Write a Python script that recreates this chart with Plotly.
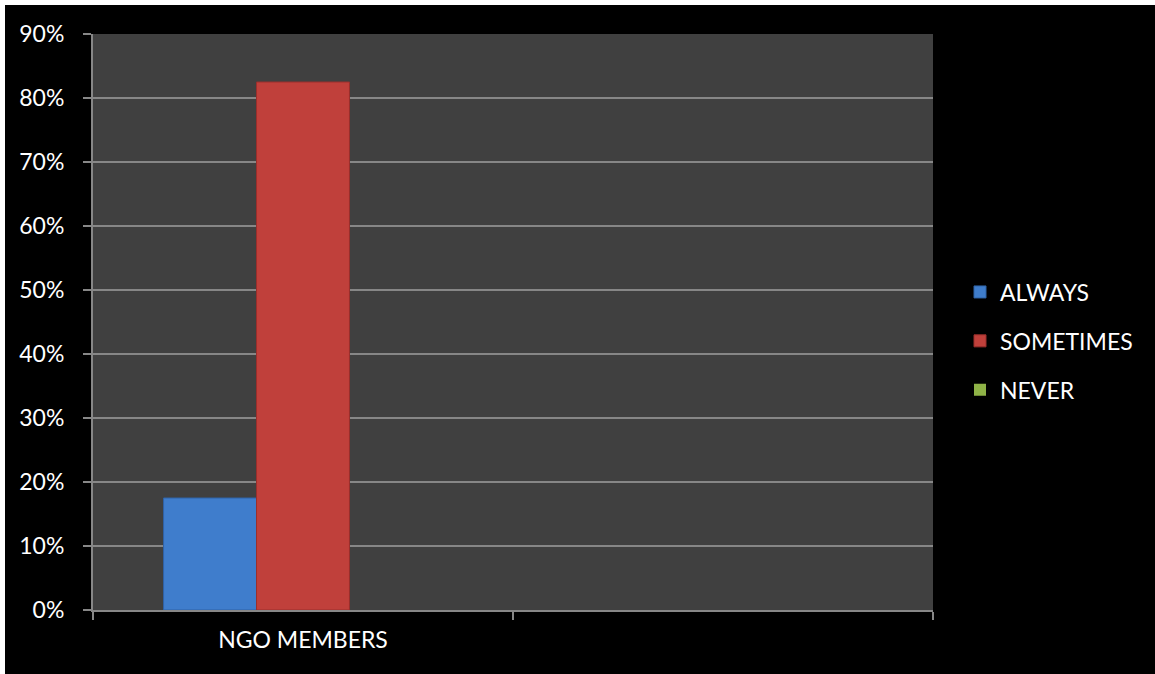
import plotly.graph_objects as go

# Survey responses of NGO members
categories = ["NGO MEMBERS", " "]
series_names = ["ALWAYS", "SOMETIMES", "NEVER"]
always = [0.175, None]
sometimes = [0.825, None]
never = [0.0, None]
colors = ["#3f7dcc", "#c0403b", "#8fb347"]
edge_colors = ["#2f62a6", "#9a2f2c", "#6f8f33"]
y_ticks = [0, 0.1, 0.2, 0.3, 0.4, 0.5, 0.6, 0.7, 0.8, 0.9]

W, H = 1155, 674
ML, MR, MT, MB = 93, 222, 34, 64
PW, PH = W - ML - MR, H - MT - MB

FONT = "Lato"
fig = go.Figure()
for name, vals, c, ec in zip(series_names, [always, sometimes, never], colors, edge_colors):
    nonzero = any(v for v in vals if v)
    fig.add_trace(go.Bar(
        name=name, x=categories, y=vals, legendgroup=name,
        marker=dict(color=c, line=dict(color=ec, width=1 if nonzero else 0)),
    ))

grid = "#878787"
fig.update_layout(
    width=W, height=H,
    margin=dict(l=ML, r=MR, t=MT, b=MB, autoexpand=False),
    paper_bgcolor="black", plot_bgcolor="#404040",
    barmode="group", bargap=0.336, bargroupgap=0,
    font=dict(family=FONT, size=22, color="white"),
    showlegend=True,
    legend=dict(
        x=(960 - ML) / PW, xanchor="left",
        y=(MT + PH - 341) / PH, yanchor="middle",
        font=dict(family=FONT, size=23, color="white"),
        tracegroupgap=16, bgcolor="rgba(0,0,0,0)",
        itemwidth=30,
    ),
    xaxis=dict(
        type="category", categoryorder="array", categoryarray=categories,
        range=[-0.5, 1.5], tickson="boundaries",
        ticks="outside", ticklen=8, tickwidth=2, tickcolor=grid,
        showline=True, linecolor=grid, linewidth=2,
        showgrid=False, ticklabelstandoff=8,
        tickfont=dict(family=FONT, size=23, color="white"),
    ),
    yaxis=dict(
        range=[0, 0.9], tickvals=y_ticks, tickformat=".0%",
        ticks="outside", ticklen=8, tickwidth=2, tickcolor=grid,
        showline=True, linecolor=grid, linewidth=2,
        showgrid=True, gridcolor=grid, gridwidth=1.5,
        zeroline=False, ticklabelstandoff=14,
        tickfont=dict(family=FONT, size=23, color="white"),
    ),
    shapes=[
        # white frame strips along the top and left edges of the canvas
        dict(type="rect", xref="paper", yref="paper",
             x0=-ML / PW, x1=(W - ML) / PW,
             y0=1 + (MT - 5) / PH, y1=1 + MT / PH,
             fillcolor="white", line_width=0, layer="above"),
        dict(type="rect", xref="paper", yref="paper",
             x0=-ML / PW, x1=(5 - ML) / PW,
             y0=-MB / PH, y1=1 + MT / PH,
             fillcolor="white", line_width=0, layer="above"),
    ],
)

fig.write_html(
    "out.html",
    post_script="document.body.style.margin='0';document.body.style.background='black';",
)
